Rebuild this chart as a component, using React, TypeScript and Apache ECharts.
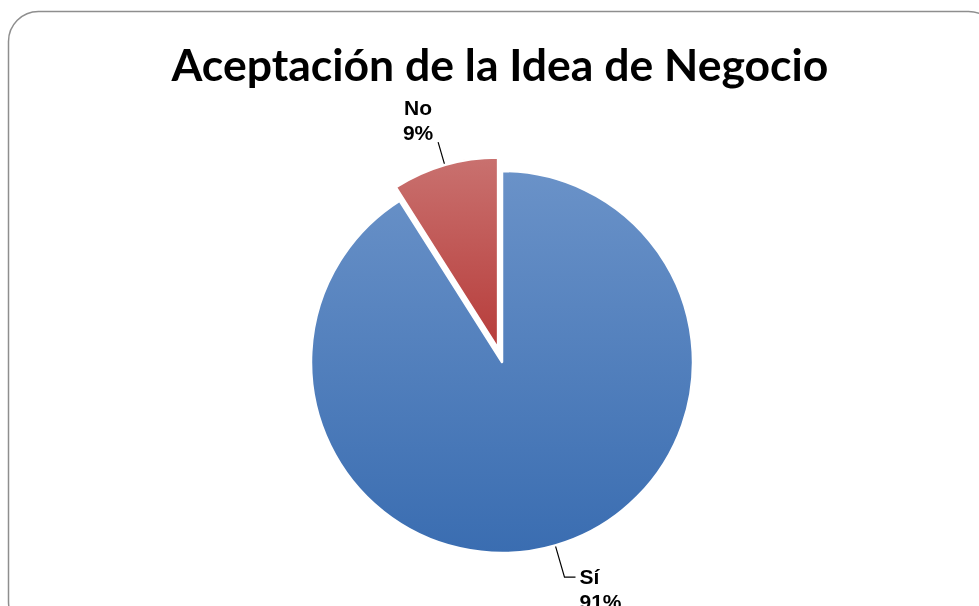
import React, { useEffect, useRef } from "react";
import * as echarts from "echarts";

const titleText = "Aceptación de la Idea de Negocio";
const categories = ["Sí", "No"];
const values = [91, 9];

export default function App() {
  const ref = useRef<HTMLDivElement>(null);
  useEffect(() => {
    if (!ref.current) return;
    const chart = echarts.init(ref.current, null, { renderer: "svg" });
    const blue = {
      type: "linear", x: 0, y: 0, x2: 0, y2: 1,
      colorStops: [{ offset: 0, color: "#6a92c8" }, { offset: 1, color: "#3a6db1" }],
    };
    const red = {
      type: "linear", x: 0, y: 0, x2: 0, y2: 1,
      colorStops: [{ offset: 0, color: "#c9716f" }, { offset: 1, color: "#b73c3a" }],
    };
    const colors = [blue, red];

    const cx = 502;
    const cy = 362;
    const explode = 14;
    const total = values.reduce((a, b) => a + b, 0);
    // mid-angle of the exploded slice (index 1), measured clockwise from top
    const startFrac = values[0] / total;
    const midFrac = startFrac + values[1] / total / 2;
    const midAng = midFrac * 2 * Math.PI;
    const ox = cx + explode * Math.sin(midAng);
    const oy = cy - explode * Math.cos(midAng);

    const labelBase = {
      show: true,
      position: "outside",
      formatter: "{b}\n{d}%",
      fontFamily: "Liberation Sans, Arial",
      fontWeight: "bold",
      fontSize: 21,
      lineHeight: 25,
      color: "#000000",
    };
    const lineBase = {
      show: true,
      length: 33,
      length2: 11,
      lineStyle: { color: "#000000", width: 1.2 },
    };

    const makeData = (visible: number) =>
      categories.map((c, i) => ({
        name: c,
        value: values[i],
        itemStyle:
          i === visible
            ? { color: colors[i], borderColor: "#ffffff", borderWidth: 2.5 }
            : { color: "rgba(0,0,0,0)", borderWidth: 0 },
        label: i === visible ? {} : { show: false },
        labelLine: i === visible ? (i === 1 ? { length: 24, length2: 0 } : {}) : { show: false },
      }));

    chart.setOption({
      animation: false,
      graphic: [
        {
          type: "rect",
          z: -10,
          shape: { x: 8.5, y: 11.5, width: 990, height: 620, r: 30 },
          style: { fill: "#ffffff", stroke: "#8e8e8e", lineWidth: 1.5 },
        },
        {
          type: "text",
          x: 500,
          y: 63,
          style: {
            text: titleText,
            fill: "#000000",
            font: "bold 44.5px Lato",
            textAlign: "center",
            textVerticalAlign: "middle",
          },
        },
      ],
      series: [
        {
          type: "pie",
          center: [cx, cy],
          radius: 191,
          startAngle: 90,
          clockwise: true,
          avoidLabelOverlap: false,
          silent: true,
          label: labelBase,
          labelLine: lineBase,
          labelLayout: (params: any) => {
            const pts = params.labelLinePoints;
            if (!pts || params.dataIndex !== 0) return {};
            const p2 = pts[2];
            return {
              x: p2[0] + 4,
              y: p2[1] - 13,
              align: "left",
              verticalAlign: "top",
              labelLinePoints: pts,
            };
          },
          data: makeData(0),
        },
        {
          type: "pie",
          center: [ox, oy],
          radius: 191,
          startAngle: 90,
          clockwise: true,
          avoidLabelOverlap: false,
          silent: true,
          label: labelBase,
          labelLine: lineBase,
          labelLayout: (params: any) => {
            const pts = params.labelLinePoints;
            if (!pts || params.dataIndex !== 1) return {};
            const p1 = pts[1];
            return {
              x: p1[0] - 20,
              y: p1[1] + 3,
              align: "center",
              verticalAlign: "bottom",
              labelLinePoints: [pts[0], p1, p1],
            };
          },
          data: makeData(1),
        },
      ],
    });
    return () => chart.dispose();
  }, []);
  return (
    <div
      ref={ref}
      style={{ position: "fixed", left: 0, top: 0, width: 979, height: 606 }}
    />
  );
}
